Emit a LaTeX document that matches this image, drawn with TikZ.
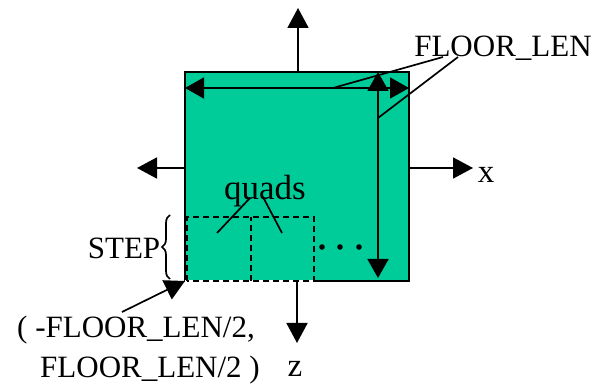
\documentclass[tikz,border=0pt]{standalone}
\usepackage{fontspec}
\setmainfont{Liberation Serif}
\usetikzlibrary{arrows.meta,decorations.pathreplacing}
\definecolor{floorgreen}{RGB}{0,204,153}

\begin{document}
\begin{tikzpicture}[x=1pt,y=1pt,line width=1.7pt,
    axis/.style={-{Triangle[length=20pt,width=21pt]}},
    dimline/.style={{Triangle[length=19pt,width=21pt]}-{Triangle[length=19pt,width=21pt]}},
    lbl/.style={font=\fontsize{31}{37}\selectfont,inner sep=0pt,anchor=base},
    quadbox/.style={dash pattern=on 6pt off 4pt}]
  \useasboundingbox (0,0) rectangle (596,385);

  % floor square
  \coordinate (SW) at (185,104);
  \coordinate (NE) at (409,313);
  \filldraw[fill=floorgreen] (SW) rectangle (NE);

  % axes
  \coordinate (Ot) at (298,313);  \coordinate (Tt) at (298,377);
  \coordinate (Ob) at (297,104);  \coordinate (Tb) at (297,42);
  \coordinate (Ol) at (185,217);  \coordinate (Tl) at (137,217);
  \coordinate (Or) at (409,217);  \coordinate (Tr) at (473,217);
  \draw[axis] (Ot) -- (Tt);
  \draw[axis] (Ob) -- (Tb);
  \draw[axis] (Ol) -- (Tl);
  \draw[axis] (Or) -- (Tr);
  \node[lbl,font=\fontsize{33}{39}\selectfont] (xlab) at (486,202) {x};
  \node[lbl,font=\fontsize{33}{39}\selectfont] (zlab) at (295,9)   {z};

  % FLOOR_LEN dimensions
  \coordinate (H1) at (185,297);  \coordinate (H2) at (409,297);
  \coordinate (V1) at (378,313);  \coordinate (V2) at (378,107);
  \draw[dimline] (H1) -- (H2);
  \draw[dimline] (V2) -- (V1);
  \node[lbl] (flen) at (503,328) {FLOOR\_LEN};
  \coordinate (F1) at (443,328);  \coordinate (Fh) at (333,297);
  \coordinate (F2) at (458,328);  \coordinate (Fv) at (378,267);
  \draw (F1) -- (Fh);
  \draw (F2) -- (Fv);

  % quads
  \coordinate (Q1) at (187,104);  \coordinate (Q2) at (314,168);
  \coordinate (Qm1) at (251,104); \coordinate (Qm2) at (251,168);
  \coordinate (Qe) at (314,104);
  \draw[white] (SW) -- (Qe);
  \draw[quadbox] (Q1) rectangle (Q2);
  \draw[quadbox] (Qm1) -- (Qm2);
  \foreach \px in {322,340,359} \fill (\px,138) circle (2.8pt);
  \node[lbl,font=\fontsize{35}{41}\selectfont] (quads) at (265,185) {quads};
  \coordinate (qa) at (250,187);  \coordinate (qa') at (217,152);
  \coordinate (qb) at (263,188);  \coordinate (qb') at (282,152);
  \draw (qa) -- (qa');
  \draw (qb) -- (qb');

  % STEP
  \coordinate (B1) at (170,106);  \coordinate (B2) at (170,170);
  \draw[decorate,decoration={brace,amplitude=8pt}] (B1) -- (B2);
  \node[lbl] (step) at (124,126) {STEP};

  % corner label
  \node[lbl] (corner1) at (136,47) {( -FLOOR\_LEN/2,};
  \node[lbl] (corner2) at (150,8)  {FLOOR\_LEN/2 )};
  \coordinate (C0) at (122,73);
  \draw[axis] (C0) -- (SW);
\end{tikzpicture}
\end{document}
